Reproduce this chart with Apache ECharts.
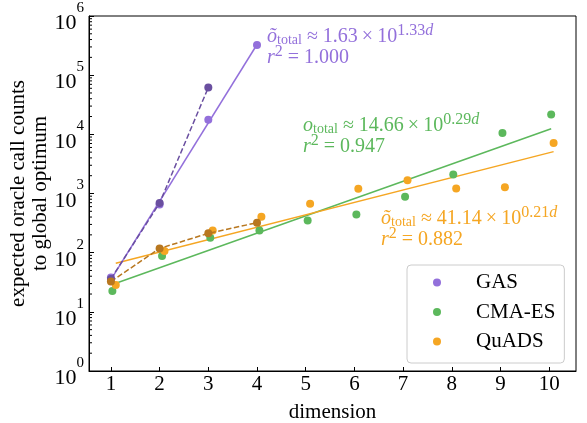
<!DOCTYPE html>
<html>
<head>
<meta charset="utf-8">
<script src="https://cdn.jsdelivr.net/npm/echarts@6/dist/echarts.min.js"></script>
<style>
html,body{margin:0;padding:0;background:#fff;}
#c{width:587px;height:423px;}
</style>
</head>
<body>
<div id="c"></div>
<script>
// ---- data ----
const xTicks = [1, 2, 3, 4, 5, 6, 7, 8, 9, 10];
const yTickExponents = [0, 1, 2, 3, 4, 5, 6];

const gasX = [1, 2, 3, 4];
const gasY = [38, 650, 17700, 324000];
const gasObsX = [1, 2, 3];
const gasObsY = [36, 690, 62000];
const gasFitX = [1, 4];
const gasFitY = [35, 330000];

const cmaX = [1.03, 2.05, 3.04, 4.05, 5.04, 6.04, 7.04, 8.03, 9.04, 10.04];
const cmaY = [22.6, 88, 179, 238, 351, 443, 880, 2090, 10500, 21700];
const cmaFitX = [1.03, 10.04];
const cmaFitY = [29, 12400];

const quadsX = [1.1, 2.1, 3.09, 4.09, 5.09, 6.08, 7.09, 8.09, 9.09, 10.09];
const quadsY = [28.5, 107, 238, 405, 670, 1200, 1680, 1215, 1280, 7150];
const quadsObsX = [1, 2, 3, 4];
const quadsObsY = [32.5, 118, 212, 321];
const quadsFitX = [1.1, 10.09];
const quadsFitY = [66, 5100];

const minorMantissas = [2, 3, 4, 5, 6, 7, 8, 9];

// ---- styling ----
const F = "'Liberation Serif', 'Times New Roman', serif";
const C_PURPLE = '#9370DB', C_DPURPLE = '#6A4FA0';
const C_GREEN = '#5CB85C';
const C_ORANGE = '#F5A623', C_DORANGE = '#B8771F';
const XMIN = 0.55, XMAX = 10.55;

const zip = (xs, ys) => xs.map((x, i) => [x, ys[i]]);

const minorData = [];
for (let e = 0; e < 6; e++) minorMantissas.forEach(m => minorData.push([XMIN, m * Math.pow(10, e)]));

function annRich(color) {
  return {
    m: {fontSize: 20, fontFamily: F, lineHeight: 21, fill: color},
    i: {fontSize: 20, fontFamily: F, fontStyle: 'italic', lineHeight: 21, fill: color},
    sub: {fontSize: 14, fontFamily: F, lineHeight: 21, padding: [8, 0, 0, 0], fill: color},
    sup: {fontSize: 16, fontFamily: F, lineHeight: 21, padding: [0, 0, 12, 0], fill: color},
    supi: {fontSize: 16, fontFamily: F, fontStyle: 'italic', lineHeight: 21, padding: [0, 0, 12, 0], fill: color}
  };
}
function annText(tilde, coef, expo, r2) {
  return '{i|' + (tilde ? 'õ' : 'o') + '}{sub|total}{m| ≈ ' + coef + '\u2009×\u200910}{sup|' + expo + '}{supi|d}\n' +
         '{i|r}{sup|2}{m| = ' + r2 + '}';
}
function ann(x, y, color, tilde, coef, expo, r2) {
  return {
    type: 'text', x: x, y: y, z: 100,
    style: {text: annText(tilde, coef, expo, r2), rich: annRich(color), fill: color,
            font: '20px ' + F, verticalAlign: 'top', align: 'left'}
  };
}

const chart = echarts.init(document.getElementById('c'), null, {renderer: 'canvas'});

const scatterCommon = {type: 'scatter', symbol: 'circle', symbolSize: 8};
const lineCommon = {type: 'line', showSymbol: false, symbol: 'none', lineStyle: {width: 1.5}, silent: true};

chart.setOption({
  animation: false,
  backgroundColor: '#fff',
  grid: {left: 89, top: 16, right: 11, bottom: 52, containLabel: false, outerBoundsMode: 'none',
         show: true, borderColor: '#000', borderWidth: 1, backgroundColor: 'transparent'},
  xAxis: {
    type: 'value', min: XMIN, max: XMAX,
    name: 'dimension', nameLocation: 'middle', nameGap: 31, nameMoveOverlap: false,
    nameTextStyle: {fontFamily: F, fontSize: 21, color: '#000'},
    axisLine: {lineStyle: {color: '#000', width: 1}},
    axisTick: {inside: true, length: 4, customValues: xTicks, lineStyle: {color: '#000'}},
    axisLabel: {customValues: xTicks, margin: 3, fontFamily: F, fontSize: 21, color: '#000'},
    splitLine: {show: false}
  },
  yAxis: {
    type: 'log', logBase: 10, min: 1, max: 1e6, splitNumber: 6,
    name: 'expected oracle call counts\nto global optimum', nameLocation: 'middle', nameGap: 38, nameMoveOverlap: false,
    nameTextStyle: {fontFamily: F, fontSize: 21, color: '#000', lineHeight: 22},
    axisLine: {show: true, lineStyle: {color: '#000', width: 1}},
    axisTick: {inside: true, length: 5, lineStyle: {color: '#000'}},
    axisLabel: {
      margin: 5,
      formatter: v => {
        const e = Math.round(Math.log10(v));
        if (yTickExponents.indexOf(e) < 0) return '';
        return '{b|10}{s|' + e + '}';
      },
      rich: {
        b: {fontFamily: F, fontSize: 22, color: '#000', lineHeight: 20, padding: [15, 0, 0, 0]},
        s: {fontFamily: F, fontSize: 15, color: '#000', lineHeight: 20, padding: [0, 0, 16, 0]}
      }
    },
    splitLine: {show: false}
  },
  legend: {
    data: ['GAS', 'CMA-ES', 'QuADS'],
    orient: 'vertical', left: 407, top: 265,
    padding: [5.5, 9, 9.5, 26], itemGap: 5.5,
    itemWidth: 38, itemHeight: 8, icon: 'circle',
    backgroundColor: 'rgba(255,255,255,0.8)', borderColor: '#cccccc', borderWidth: 1, borderRadius: 4,
    textStyle: {fontFamily: F, fontSize: 21, color: '#000', lineHeight: 24, padding: [0, 0, 0, 15]}
  },
  graphic: [
    ann(267, 26, C_PURPLE, true, '1.63', '1.33', '1.000'),
    ann(303, 115, C_GREEN, false, '14.66', '0.29', '0.947'),
    ann(381, 208, C_ORANGE, true, '41.14', '0.21', '0.882')
  ],
  series: [
    {type: 'custom', silent: true, data: minorData, clip: false, z: 5,
     renderItem: (params, api) => {
       const p = api.coord([api.value(0), api.value(1)]);
       return {type: 'line', shape: {x1: p[0], y1: p[1], x2: p[0] + 3, y2: p[1]}, style: {stroke: '#000', lineWidth: 1}};
     }},
    Object.assign({}, lineCommon, {name: 'CMA-ES fit', data: zip(cmaFitX, cmaFitY), lineStyle: {width: 1.5, color: C_GREEN}, itemStyle: {color: C_GREEN}, z: 2}),
    Object.assign({}, scatterCommon, {name: 'CMA-ES', data: zip(cmaX, cmaY), itemStyle: {color: C_GREEN, opacity: 1}, z: 3}),
    Object.assign({}, lineCommon, {name: 'QuADS fit', data: zip(quadsFitX, quadsFitY), lineStyle: {width: 1.5, color: C_ORANGE}, itemStyle: {color: C_ORANGE}, z: 2}),
    Object.assign({}, scatterCommon, {name: 'QuADS', data: zip(quadsX, quadsY), itemStyle: {color: C_ORANGE, opacity: 1}, z: 3}),
    Object.assign({}, lineCommon, {name: 'GAS fit', data: zip(gasFitX, gasFitY), lineStyle: {width: 1.5, color: C_PURPLE}, itemStyle: {color: C_PURPLE}, z: 2}),
    Object.assign({}, scatterCommon, {name: 'GAS', data: zip(gasX, gasY), itemStyle: {color: C_PURPLE, opacity: 1}, z: 3}),
    {type: 'line', name: 'GAS observed', data: zip(gasObsX, gasObsY), symbol: 'circle', symbolSize: 8, showSymbol: true,
     lineStyle: {width: 1.5, color: C_DPURPLE, type: [5.5, 2.5]}, itemStyle: {color: C_DPURPLE}, z: 4},
    {type: 'line', name: 'QuADS observed', data: zip(quadsObsX, quadsObsY), symbol: 'circle', symbolSize: 8, showSymbol: true,
     lineStyle: {width: 1.5, color: C_DORANGE, type: [5.5, 2.5]}, itemStyle: {color: C_DORANGE}, z: 4}
  ]
});
</script>
</body>
</html>
